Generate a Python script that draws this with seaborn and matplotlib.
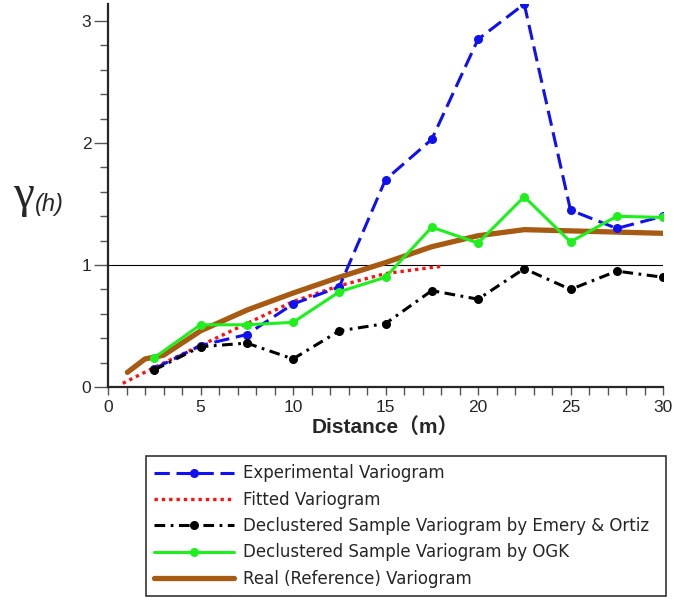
import numpy as np
import pandas as pd
import matplotlib
matplotlib.use("Agg")
import matplotlib.pyplot as plt
from matplotlib.ticker import MultipleLocator
import seaborn as sns

lags = [2.5, 5, 7.5, 10, 12.5, 15, 17.5, 20, 22.5, 25, 27.5, 30]
experimental = [0.15, 0.34, 0.43, 0.68, 0.82, 1.70, 2.03, 2.85, 3.14, 1.45, 1.30, 1.40]
emery_ortiz = [0.14, 0.33, 0.36, 0.23, 0.46, 0.52, 0.79, 0.72, 0.97, 0.80, 0.95, 0.90]
ogk = [0.24, 0.51, 0.51, 0.53, 0.78, 0.90, 1.31, 1.18, 1.56, 1.19, 1.40, 1.39]

fit_x = [0.8, 2.5, 5, 7.5, 10, 12.5, 15, 17.5, 18.1]
fit_y = [0.03, 0.16, 0.34, 0.52, 0.70, 0.83, 0.93, 0.98, 0.99]

real_x = [1.05, 2, 3, 4, 5, 7.5, 10, 12.5, 15, 17.5, 20, 22.5, 25, 27.5, 30]
real_y = [0.12, 0.23, 0.26, 0.36, 0.46, 0.63, 0.77, 0.90, 1.02, 1.15, 1.24, 1.29, 1.28, 1.27, 1.26]

labels = ["Experimental Variogram", "Fitted Variogram",
          "Declustered Sample Variogram by Emery & Ortiz",
          "Declustered Sample Variogram by OGK",
          "Real (Reference) Variogram"]

sns.set_style("ticks")
plt.rcParams["font.family"] = ["Liberation Sans", "DejaVu Sans"]

fig = plt.figure(figsize=(6.74, 6), dpi=100)
ax = fig.add_axes([108 / 674, 1 - 387 / 600, (663 - 108) / 674, (387 - 4) / 600])

ax.axhline(1, color="black", lw=0.8, zorder=1)

df_exp = pd.DataFrame({"h": lags, "g": experimental})
df_emo = pd.DataFrame({"h": lags, "g": emery_ortiz})
df_ogk = pd.DataFrame({"h": lags, "g": ogk})
df_fit = pd.DataFrame({"h": fit_x, "g": fit_y})
df_real = pd.DataFrame({"h": real_x, "g": real_y})

# marker style shared by the sample variograms
mk = dict(marker="o", markersize=6.5, markeredgewidth=0)

sns.lineplot(data=df_exp, x="h", y="g", ax=ax, color="#1010f0", lw=2.2,
             label=labels[0], zorder=4, **mk)
ax.lines[-1].set_dashes((5, 2.2))
sns.lineplot(data=df_fit, x="h", y="g", ax=ax, color="#ff1010", lw=2.4,
             label=labels[1], zorder=3)
ax.lines[-1].set_dashes((1, 1.2))
sns.lineplot(data=df_emo, x="h", y="g", ax=ax, color="black", lw=2.2,
             label=labels[2], zorder=4, **mk)
ax.lines[-1].set_dashes((3.5, 1.8, 0.9, 1.8))
sns.lineplot(data=df_ogk, x="h", y="g", ax=ax, color="#1ef01e", lw=2.2,
             label=labels[3], zorder=5, **mk)
sns.lineplot(data=df_real, x="h", y="g", ax=ax, color="#a65a12", lw=3.8,
             label=labels[4], zorder=3)

ax.set_xlim(0, 30)
ax.set_ylim(0, 3.14)
ax.set_xticks([0, 5, 10, 15, 20, 25, 30])
ax.set_yticks([0, 1, 2, 3])
ax.xaxis.set_minor_locator(MultipleLocator(1))
ax.yaxis.set_minor_locator(MultipleLocator(0.2))
ax.tick_params(axis="y", which="major", length=10, width=1, color="#555555",
               labelsize=12.5, pad=2)
ax.tick_params(axis="y", which="minor", length=6, width=1, color="#555555")
ax.tick_params(axis="x", which="major", length=6, width=1, color="#555555",
               labelsize=12.5, pad=3)
ax.tick_params(axis="x", which="minor", length=6, width=1, color="#555555")
sns.despine(ax=ax)
for s in ["left", "bottom"]:
    ax.spines[s].set_linewidth(1.6)

ax.set_xlabel("Distance（m）", fontsize=15, fontweight="bold",
              family=["Liberation Sans", "Noto Sans CJK JP"], labelpad=2)
ax.set_ylabel("")
fig.text(13 / 674, 1 - 196 / 600, "γ", fontsize=34, family="Liberation Serif",
         va="center", ha="left")
fig.text(35 / 674, 1 - 205 / 600, "(h)", fontsize=17, style="italic",
         va="center", ha="left")

handles, lbls = ax.get_legend_handles_labels()
ax.get_legend().remove()
leg = fig.legend(handles, lbls, loc="upper left",
                 bbox_to_anchor=(146 / 674, 1 - 456 / 600, (666 - 146) / 674, 0.0),
                 mode="expand", borderaxespad=0, frameon=True, fancybox=False,
                 edgecolor="black", handlelength=4.8,
                 labelspacing=0.5, borderpad=0.5, handletextpad=0.5,
                 prop={"family": "DejaVu Sans", "size": 12})
leg.get_frame().set_linewidth(1.2)

fig.savefig("out.png", dpi=100)
